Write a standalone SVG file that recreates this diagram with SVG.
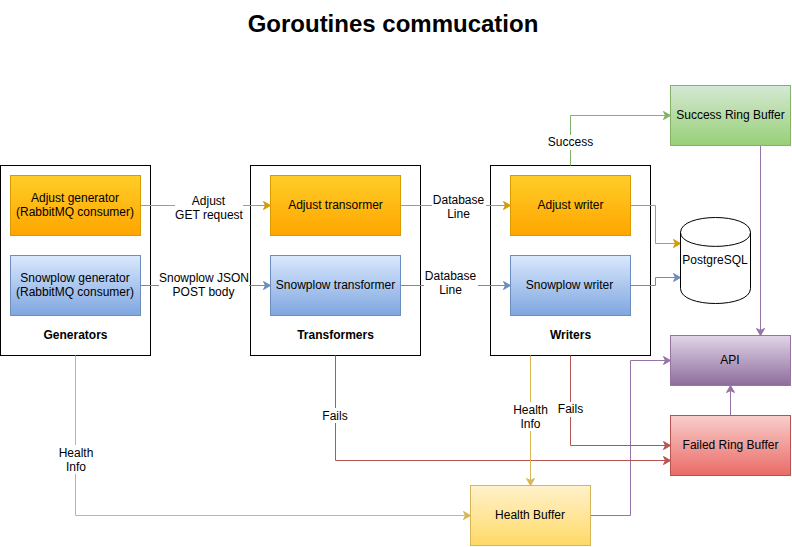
<svg xmlns="http://www.w3.org/2000/svg" width="792" height="547" viewBox="0 0 792 547">
<style>
text{font-family:"Liberation Sans",Arial,sans-serif;font-size:12px;fill:#000;text-anchor:middle}
.t{font-size:24px;font-weight:bold}
.b{font-weight:bold}
.c{fill:#fff;stroke:#000;stroke-width:1}
.bl{fill:#fff}
.y{fill:url(#gy);stroke:#d79b00}
.s{fill:url(#gb);stroke:#6c8ebf}
.g{fill:url(#gg);stroke:#82b366}
.p{fill:url(#gp);stroke:#9673a6}
.r{fill:url(#gr);stroke:#b85450}
.h{fill:url(#gh);stroke:#d6b656}
path.l{fill:none;stroke-width:1}
.ly{stroke:#d79b00}.lb{stroke:#6c8ebf}.lg{stroke:#82b366}.lp{stroke:#9673a6}.lr{stroke:#b85450}.lh{stroke:#d6b656}
</style>
<defs>
<linearGradient id="gy" x1="0" y1="0" x2="0" y2="1"><stop offset="0" stop-color="#ffcd28"/><stop offset="1" stop-color="#ffa500"/></linearGradient>
<linearGradient id="gb" x1="0" y1="0" x2="0" y2="1"><stop offset="0" stop-color="#dae8fc"/><stop offset="1" stop-color="#7ea6e0"/></linearGradient>
<linearGradient id="gg" x1="0" y1="0" x2="0" y2="1"><stop offset="0" stop-color="#d5e8d4"/><stop offset="1" stop-color="#97d077"/></linearGradient>
<linearGradient id="gp" x1="0" y1="0" x2="0" y2="1"><stop offset="0" stop-color="#e1d5e7"/><stop offset="1" stop-color="#8c6c9c"/></linearGradient>
<linearGradient id="gr" x1="0" y1="0" x2="0" y2="1"><stop offset="0" stop-color="#f8cecc"/><stop offset="1" stop-color="#ea6b66"/></linearGradient>
<linearGradient id="gh" x1="0" y1="0" x2="0" y2="1"><stop offset="0" stop-color="#fff2cc"/><stop offset="1" stop-color="#ffd966"/></linearGradient>
<marker id="ay" markerUnits="userSpaceOnUse" markerWidth="10" markerHeight="10" refX="8" refY="5" orient="auto"><path d="M1 1L8 5L1 9L3 5Z" fill="#d79b00" stroke="#d79b00"/></marker>
<marker id="ab" markerUnits="userSpaceOnUse" markerWidth="10" markerHeight="10" refX="8" refY="5" orient="auto"><path d="M1 1L8 5L1 9L3 5Z" fill="#6c8ebf" stroke="#6c8ebf"/></marker>
<marker id="ag" markerUnits="userSpaceOnUse" markerWidth="10" markerHeight="10" refX="8" refY="5" orient="auto"><path d="M1 1L8 5L1 9L3 5Z" fill="#82b366" stroke="#82b366"/></marker>
<marker id="ap" markerUnits="userSpaceOnUse" markerWidth="10" markerHeight="10" refX="8" refY="5" orient="auto"><path d="M1 1L8 5L1 9L3 5Z" fill="#9673a6" stroke="#9673a6"/></marker>
<marker id="ar" markerUnits="userSpaceOnUse" markerWidth="10" markerHeight="10" refX="8" refY="5" orient="auto"><path d="M1 1L8 5L1 9L3 5Z" fill="#b85450" stroke="#b85450"/></marker>
<marker id="ah" markerUnits="userSpaceOnUse" markerWidth="10" markerHeight="10" refX="8" refY="5" orient="auto"><path d="M1 1L8 5L1 9L3 5Z" fill="#d6b656" stroke="#d6b656"/></marker>
</defs>
<text class="t" x="393" y="32">Goroutines commucation</text>

<g id="generators"><rect class="c" x="0.5" y="165.5" width="150" height="190"/><text class="b" x="75.5" y="339">Generators</text></g>
<g id="transformers"><rect class="c" x="250.5" y="165.5" width="170" height="190"/><text class="b" x="335.5" y="339">Transformers</text></g>
<g id="writers"><rect class="c" x="490.5" y="165.5" width="160" height="190"/><text class="b" x="570.5" y="339">Writers</text></g>

<g id="connectors">
<path class="l ly" d="M140.5 205.5H270.5" marker-end="url(#ay)"/>
<path class="l lb" d="M140.5 285.5H270.5" marker-end="url(#ab)"/>
<path class="l ly" d="M400.5 205.5H510.5" marker-end="url(#ay)"/>
<path class="l lb" d="M400.5 285.5H510.5" marker-end="url(#ab)"/>
<path class="l ly" d="M630.5 205.5H655.5V243.5H680.5" marker-end="url(#ay)"/>
<path class="l lb" d="M630.5 285.5H655.5V277.5H680.5" marker-end="url(#ab)"/>
<path class="l lg" d="M570.5 165.5V115.5H670.5" marker-end="url(#ag)"/>
<path class="l lp" d="M760.5 145.5V335.5" marker-end="url(#ap)"/>
<path class="l lp" d="M730.5 415.5V385.5" marker-end="url(#ap)"/>
<path class="l lp" d="M590.5 515.5H630.5V360.5H670.5" marker-end="url(#ap)"/>
<path class="l lr" d="M570.5 355.5V445.5H670.5" marker-end="url(#ar)"/>
<path class="l lr" d="M335.5 355.5V460.5H670.5" marker-end="url(#ar)"/>
<path class="l lh" d="M530.5 355.5V485.5" marker-end="url(#ah)"/>
<path class="l lh" d="M75.5 355.5V515.5H470.5" marker-end="url(#ah)"/>
</g>

<g id="connector-labels">
<rect class="bl" x="175" y="193" width="68" height="29"/>
<text x="208.5" y="205">Adjust</text><text x="209" y="219">GET request</text>
<rect class="bl" x="159" y="272" width="90" height="29"/>
<text x="204" y="282">Snowplow JSON</text><text x="203.5" y="296">POST body</text>
<rect class="bl" x="432" y="193" width="54" height="29"/>
<text x="458.5" y="204">Database</text><text x="458.5" y="218">Line</text>
<rect class="bl" x="424" y="269" width="54" height="29"/>
<text x="450.5" y="280">Database</text><text x="450.5" y="294">Line</text>
<rect class="bl" x="547" y="135" width="47" height="15"/>
<text x="570.5" y="146">Success</text>
<rect class="bl" x="322" y="408" width="27" height="15"/>
<text x="335" y="419.500">Fails</text>
<rect class="bl" x="512" y="402" width="38" height="29"/>
<text x="530.5" y="414">Health</text><text x="530.5" y="428">Info</text>
<rect class="bl" x="558" y="402" width="26" height="15"/>
<text x="570.500" y="413">Fails</text>
<rect class="bl" x="58" y="445" width="36" height="29"/>
<text x="76" y="457">Health</text><text x="76" y="471">Info</text>
</g>

<g id="adjust-generator"><rect class="y" x="10.500" y="175.500" width="130" height="60"/><text x="75" y="202">Adjust generator</text><text x="75" y="216">(RabbitMQ consumer)</text></g>
<g id="snowplow-generator"><rect class="s" x="10.500" y="255.500" width="130" height="60"/><text x="75" y="282">Snowplow generator</text><text x="75" y="296">(RabbitMQ consumer)</text></g>
<g id="adjust-transformer"><rect class="y" x="270.500" y="175.500" width="130" height="60"/><text x="335.500" y="209">Adjust transormer</text></g>
<g id="snowplow-transformer"><rect class="s" x="270.500" y="255.500" width="130" height="60"/><text x="335.500" y="289">Snowplow transformer</text></g>
<g id="adjust-writer"><rect class="y" x="510.500" y="175.500" width="120" height="60"/><text x="570.500" y="209">Adjust writer</text></g>
<g id="snowplow-writer"><rect class="s" x="510.500" y="255.500" width="120" height="60"/><text x="569.500" y="289">Snowplow writer</text></g>
<g id="success-ring-buffer"><rect class="g" x="670.500" y="85.500" width="120" height="60"/><text x="730.500" y="119">Success Ring Buffer</text></g>
<g id="postgresql"><path d="M680.500 232.500C680.500 212.500 750.500 212.500 750.500 232.500V288.500C750.500 308.500 680.500 308.500 680.500 288.500Z" fill="#fff" stroke="#000"/><path d="M680.500 232.500C680.500 251 750.500 251 750.500 232.500" fill="none" stroke="#000"/><text x="715" y="264">PostgreSQL</text></g>
<g id="api"><rect class="p" x="670.500" y="335.500" width="120" height="50"/><text x="730" y="364">API</text></g>
<g id="failed-ring-buffer"><rect class="r" x="670.500" y="415.500" width="120" height="60"/><text x="730.500" y="449">Failed Ring Buffer</text></g>
<g id="health-buffer"><rect class="h" x="470.500" y="485.500" width="120" height="60"/><text x="530" y="519">Health Buffer</text></g>
</svg>
